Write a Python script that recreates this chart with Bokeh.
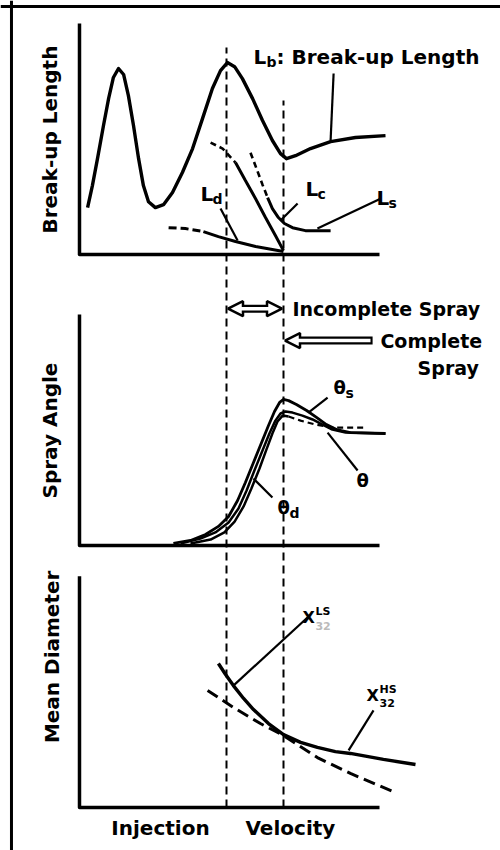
import numpy as np
from bokeh.plotting import figure
from bokeh.models import Range1d, Span, Arrow, NormalHead
from bokeh.core.properties import value
from bokeh.embed import file_html
from bokeh.resources import INLINE

FONT = "DejaVu Sans"

# ---------------- data (velocity axis 0..10, each quantity 0..10) ----------------
# transition velocities (dashed verticals)
transition_v = [4.9, 6.8]

# Panel 1: break-up length
lb_v = [0.27, 0.43, 0.60, 0.80, 0.97, 1.13, 1.30, 1.47, 1.63, 1.80, 1.97, 2.13, 2.30, 2.53, 2.80,
        3.10, 3.43, 3.77, 4.10, 4.43, 4.70, 4.93, 5.17, 5.43, 5.77, 6.10, 6.43, 6.70, 6.90, 7.20,
        7.70, 8.37, 9.20, 10.20]
lb_u = [2.04, 3.00, 4.17, 5.61, 6.78, 7.70, 8.09, 7.83, 6.91, 5.61, 4.17, 3.00, 2.30, 2.04, 2.17,
        2.70, 3.57, 4.61, 5.91, 7.22, 8.00, 8.35, 8.17, 7.65, 6.78, 5.83, 4.96, 4.39, 4.17, 4.30,
        4.61, 4.91, 5.09, 5.17]
lc_dash_v = [4.37, 4.77, 5.20]
lc_dash_u = [4.87, 4.61, 4.00]
lc_v = [5.20, 5.53, 5.87, 6.20, 6.53, 6.80]
lc_u = [4.00, 3.22, 2.43, 1.61, 0.83, 0.17]
ls_dash_v = [5.70, 5.90, 6.10, 6.27]
ls_dash_u = [4.43, 3.74, 3.04, 2.48]
ls_v = [6.27, 6.43, 6.63, 6.83, 7.10, 7.53, 8.37]
ls_u = [2.48, 2.00, 1.61, 1.35, 1.17, 1.04, 1.04]
ld_dash_v = [2.97, 3.53, 4.13]
ld_dash_u = [1.17, 1.13, 1.00]
ld_v = [4.13, 4.63, 5.20, 5.87, 6.80]
ld_u = [1.00, 0.78, 0.57, 0.35, 0.13]

# Panel 2: spray angle
ths_v = [3.13, 3.70, 4.20, 4.63, 4.97, 5.27, 5.53, 5.80, 6.07, 6.30, 6.50, 6.67, 6.80, 6.97, 7.23,
         7.57, 7.90, 8.23, 8.57, 9.03, 10.20]
ths_u = [0.09, 0.22, 0.48, 0.83, 1.26, 1.96, 2.74, 3.61, 4.48, 5.22, 5.83, 6.22, 6.35, 6.30, 6.13,
         5.87, 5.57, 5.26, 5.04, 4.91, 4.87]
th_v = [3.37, 4.03, 4.53, 4.97, 5.30, 5.57, 5.83, 6.10, 6.33, 6.53, 6.70, 6.87, 7.10, 7.43, 7.77,
        8.10, 8.43, 8.87, 10.20]
th_u = [0.09, 0.30, 0.57, 1.00, 1.61, 2.39, 3.26, 4.13, 4.87, 5.43, 5.74, 5.83, 5.78, 5.65, 5.48,
        5.26, 5.04, 4.91, 4.87]
thd_v = [3.70, 4.37, 4.83, 5.17, 5.47, 5.73, 6.00, 6.23, 6.43, 6.60, 6.77, 6.97]
thd_u = [0.09, 0.26, 0.57, 1.04, 1.70, 2.48, 3.35, 4.17, 4.87, 5.39, 5.65, 5.61]
thd_dash_v = [6.97, 7.37, 7.87, 8.47, 9.53]
thd_dash_u = [5.61, 5.43, 5.26, 5.13, 5.13]

# Panel 3: mean diameter
xhs_v = [4.63, 4.87, 5.13, 5.47, 5.80, 6.30, 6.80, 7.37, 7.93, 8.53, 9.03, 10.13, 11.20]
xhs_u = [6.26, 5.78, 5.30, 4.74, 4.26, 3.65, 3.17, 2.83, 2.61, 2.43, 2.35, 2.09, 1.87]
xls_v = [4.27, 5.13, 6.03, 6.80, 7.93, 9.03, 10.53]
xls_u = [5.09, 4.35, 3.65, 3.13, 2.17, 1.48, 0.65]

# titles
y_titles = ["Break-up Length", "Spray Angle", "Mean Diameter"]
x_title = ["Injection", "Velocity"]

# ---------------- layout ----------------
BASE = {"top": 24.04, "mid": 11.39, "bot": 0.0}


def g(u, panel):
    return [val + BASE[panel] for val in u]


p = figure(width=500, height=850, output_backend="svg", toolbar_location=None,
           x_range=Range1d(-2.633, 14.033), y_range=Range1d(-1.870, 35.087),
           x_axis_location=None, y_axis_location=None, min_border=0,
           outline_line_color=None, background_fill_color="white")
p.grid.visible = False

# outer frame (top and left only, as in the scan)
p.add_layout(Span(location=-2.267, dimension="height", line_color="black", line_width=3))
p.add_layout(Span(location=34.826, dimension="width", line_color="black", line_width=3))

# panel axes (L shapes)
for panel in ["top", "mid", "bot"]:
    p.line([0, 0, 10], g([10.05, 0, 0], panel), line_color="black", line_width=3.5,
           line_join="round")

# dashed transition lines
p.segment(x0=transition_v, y0=[0, 0], x1=transition_v, y1=[33.04, 30.74],
          line_color="black", line_width=2, line_dash="8 5")

CURVE_W = 3.4
# panel 1 curves
p.line(lb_v, g(lb_u, "top"), line_color="black", line_width=CURVE_W, line_join="round")
p.line(lc_dash_v, g(lc_dash_u, "top"), line_color="black", line_width=2.6, line_dash="6 4")
p.line(lc_v, g(lc_u, "top"), line_color="black", line_width=3)
p.line(ls_dash_v, g(ls_dash_u, "top"), line_color="black", line_width=2.6, line_dash="6 4")
p.line(ls_v, g(ls_u, "top"), line_color="black", line_width=3)
p.line(ld_dash_v, g(ld_dash_u, "top"), line_color="black", line_width=3, line_dash="8 4")
p.line(ld_v, g(ld_u, "top"), line_color="black", line_width=3)

# panel 2 curves
p.line(ths_v, g(ths_u, "mid"), line_color="black", line_width=2.8)
p.line(th_v, g(th_u, "mid"), line_color="black", line_width=2.5)
p.line(thd_v, g(thd_u, "mid"), line_color="black", line_width=2.5)
p.line(thd_dash_v, g(thd_dash_u, "mid"), line_color="black", line_width=2.2, line_dash="6 4")

# panel 3 curves
p.line(xhs_v, g(xhs_u, "bot"), line_color="black", line_width=CURVE_W)
p.line(xls_v, g(xls_u, "bot"), line_color="black", line_width=3, line_dash="12 6")

# leader lines (v0, u0, v1, u1, panel)
leaders = [
    (8.47, 7.87, 8.37, 4.96, "top"),
    (4.70, 2.00, 5.27, 0.61, "top"),
    (7.27, 2.22, 6.70, 1.48, "top"),
    (10.03, 2.43, 7.93, 1.13, "top"),
    (8.27, 6.43, 7.63, 5.78, "mid"),
    (9.27, 3.26, 8.27, 4.91, "mid"),
    (6.43, 2.09, 5.80, 2.91, "mid"),
    (7.60, 8.26, 5.13, 5.30, "bot"),
    (9.80, 4.22, 8.97, 2.48, "bot"),
]
p.segment(x0=[l[0] for l in leaders], y0=[l[1] + BASE[l[4]] for l in leaders],
          x1=[l[2] for l in leaders], y1=[l[3] + BASE[l[4]] for l in leaders],
          line_color="black", line_width=2.2)

# hollow arrows (black outline shaft, white core drawn on top)
head = dict(size=15, fill_color="white", line_color="black", line_width=2.5)
y_inc = 10.30 + BASE["mid"]
y_com = 8.91 + BASE["mid"]
p.add_layout(Arrow(x_start=transition_v[0] + 0.05, y_start=y_inc, x_end=transition_v[1] - 0.05, y_end=y_inc,
                   start=NormalHead(**head), end=NormalHead(**head), line_width=8, line_color="black"))
p.add_layout(Arrow(x_start=transition_v[0] + 0.40, y_start=y_inc, x_end=transition_v[1] - 0.40, y_end=y_inc,
                   start=None, end=None, line_width=3.5, line_color="white"))
p.add_layout(Arrow(x_start=9.77, y_start=y_com, x_end=transition_v[1] + 0.05, y_end=y_com,
                   start=None, end=NormalHead(**head), line_width=8, line_color="black"))
p.add_layout(Arrow(x_start=9.70, y_start=y_com, x_end=transition_v[1] + 0.40, y_end=y_com,
                   start=None, end=None, line_width=3.5, line_color="white"))


def txt(x, y, s, size="20px", ox=0, oy=0, align="left", angle=0.0, color="black"):
    p.text(x=[x], y=[y], text=[s], text_font=value(FONT), text_font_size=size,
           text_font_style="bold", text_align=align, text_baseline="middle",
           x_offset=ox, y_offset=oy, angle=angle, text_color=color)


# axis titles
txt(-0.97, 5.0 + BASE["top"], y_titles[0], align="center", angle=np.pi / 2)
txt(-0.97, 5.0 + BASE["mid"], y_titles[1], align="center", angle=np.pi / 2)
txt(-0.90, 6.55 + BASE["bot"], y_titles[2], align="center", angle=np.pi / 2)
txt(2.70, -0.87, x_title[0], align="center")
txt(7.03, -0.87, x_title[1], align="center")

# curve labels, panel 1
txt(5.80, 8.57 + BASE["top"], "L")
txt(5.80, 8.57 + BASE["top"], "b", size="14px", ox=13, oy=5)
txt(5.80, 8.57 + BASE["top"], ":", ox=23)
txt(5.80, 8.57 + BASE["top"], "Break-up Length", size="20px", ox=38)
txt(4.03, 2.65 + BASE["top"], "L")
txt(4.03, 2.65 + BASE["top"], "d", size="14px", ox=12, oy=5)
txt(7.53, 2.87 + BASE["top"], "L")
txt(7.53, 2.87 + BASE["top"], "c", size="14px", ox=12, oy=5)
txt(9.90, 2.48 + BASE["top"], "L")
txt(9.90, 2.48 + BASE["top"], "s", size="14px", ox=12, oy=5)

# panel 2 texts
txt(7.10, 10.30 + BASE["mid"], "Incomplete Spray", size="19px")
txt(10.03, 8.91 + BASE["mid"], "Complete", size="19px")
txt(11.27, 7.74 + BASE["mid"], "Spray", size="19px")
txt(8.47, 6.87 + BASE["mid"], "θ", size="18px")
txt(8.47, 6.87 + BASE["mid"], "s", size="14px", ox=12, oy=5)
txt(9.23, 2.83 + BASE["mid"], "θ", size="18px")
txt(6.60, 1.65 + BASE["mid"], "θ", size="18px")
txt(6.60, 1.65 + BASE["mid"], "d", size="14px", ox=12, oy=5)

# panel 3 texts
txt(7.43, 8.26 + BASE["bot"], "X", size="16px")
txt(7.43, 8.26 + BASE["bot"], "LS", size="11px", ox=13, oy=-6)
txt(7.43, 8.26 + BASE["bot"], "32", size="11px", ox=13, oy=8, color="#bbbbbb")
txt(9.57, 4.87 + BASE["bot"], "X", size="16px")
txt(9.57, 4.87 + BASE["bot"], "HS", size="11px", ox=13, oy=-6)
txt(9.57, 4.87 + BASE["bot"], "32", size="11px", ox=13, oy=8)

open("out.html", "w").write(file_html(p, INLINE))
